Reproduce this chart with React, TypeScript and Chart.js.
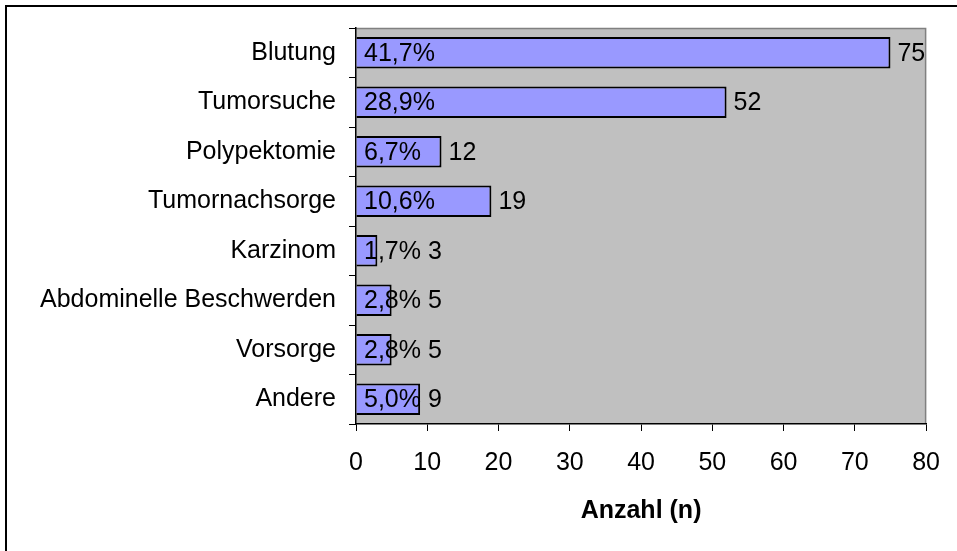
import React, { useEffect, useRef } from "react";
import { Chart, registerables } from "chart.js";

Chart.register(...registerables);

const categories = [
  "Blutung",
  "Tumorsuche",
  "Polypektomie",
  "Tumornachsorge",
  "Karzinom",
  "Abdominelle Beschwerden",
  "Vorsorge",
  "Andere",
];
const counts = [75, 52, 12, 19, 3, 5, 5, 9];
const percentLabels = ["41,7%", "28,9%", "6,7%", "10,6%", "1,7%", "2,8%", "2,8%", "5,0%"];
const xTickMin = 0;
const xTickMax = 80;
const xTickStep = 10;
const xTitle = "Anzahl (n)";

const FONT = "'Liberation Sans', Arial, Helvetica, sans-serif";
const FONT_SIZE = 25;

const plotBackground = {
  id: "plotBackground",
  beforeDraw(chart: any) {
    const { ctx, chartArea } = chart;
    const { left, top, right, bottom } = chartArea;
    ctx.save();
    ctx.fillStyle = "#C0C0C0";
    ctx.fillRect(left, top, right - left, bottom - top);
    ctx.strokeStyle = "#808080";
    ctx.lineWidth = 1.5;
    ctx.beginPath();
    ctx.moveTo(left, top + 0.5);
    ctx.lineTo(right - 0.5, top + 0.5);
    ctx.lineTo(right - 0.5, bottom);
    ctx.stroke();
    ctx.restore();
  },
};

const barLabels = {
  id: "barLabels",
  afterDatasetsDraw(chart: any) {
    const { ctx, chartArea } = chart;
    const meta = chart.getDatasetMeta(0);
    ctx.save();
    ctx.font = `${FONT_SIZE}px ${FONT}`;
    ctx.fillStyle = "#000";
    ctx.textBaseline = "middle";
    ctx.textAlign = "left";
    meta.data.forEach((bar: any, i: number) => {
      const px = chartArea.left + 8;
      ctx.fillText(percentLabels[i], px, bar.y + 1);
      const pctEnd = px + ctx.measureText(percentLabels[i]).width;
      const vx = Math.max(bar.x + 7, pctEnd + 7);
      ctx.fillText(String(counts[i]), vx, bar.y + 1);
    });
    ctx.restore();
  },
};

export default function App() {
  const canvasRef = useRef<HTMLCanvasElement | null>(null);

  useEffect(() => {
    if (!canvasRef.current) return;
    const chart = new Chart(canvasRef.current, {
      type: "bar",
      data: {
        labels: categories,
        datasets: [
          {
            data: counts,
            backgroundColor: "#9999FF",
            borderColor: "#000000",
            borderWidth: 2,
            barPercentage: 0.64,
            categoryPercentage: 1,
          },
        ],
      },
      options: {
        indexAxis: "y",
        responsive: false,
        animation: false,
        layout: { padding: { left: 0, top: 25, right: 27, bottom: 0 } },
        plugins: {
          legend: { display: false },
          tooltip: { enabled: false },
        },
        scales: {
          x: {
            min: xTickMin,
            max: xTickMax,
            ticks: {
              stepSize: xTickStep,
              color: "#000",
              font: { family: FONT, size: FONT_SIZE },
              padding: 17,
            },
            grid: {
              drawOnChartArea: false,
              drawTicks: true,
              tickLength: 7,
              color: "#000",
            },
            border: { display: true, color: "#000", width: 1.5 },
            title: {
              display: true,
              text: xTitle,
              color: "#000",
              font: { family: FONT, size: FONT_SIZE, weight: "bold" },
              padding: { top: 0, bottom: 25 },
            },
            afterFit(scale: any) {
              scale.height = 127;
            },
          },
          y: {
            ticks: {
              color: "#000",
              font: { family: FONT, size: FONT_SIZE },
              padding: 13,
            },
            grid: {
              drawOnChartArea: false,
              drawTicks: true,
              tickLength: 7,
              color: "#000",
              offset: true,
            },
            border: { display: true, color: "#000", width: 1.5 },
            afterFit(scale: any) {
              scale.width = 356;
            },
          },
        },
      } as any,
      plugins: [plotBackground, barLabels],
    });
    return () => chart.destroy();
  }, []);

  return (
    <div
      style={{
        position: "fixed",
        left: 0,
        top: 0,
        width: 957,
        height: 551,
        background: "#fff",
        overflow: "hidden",
      }}
    >
      <div
        style={{
          position: "absolute",
          left: 5,
          top: 5,
          width: 1000,
          height: 600,
          border: "2px solid #000",
          boxSizing: "border-box",
        }}
      />
      <canvas
        ref={canvasRef}
        width={957}
        height={551}
        style={{ position: "absolute", left: 0, top: 0, width: 957, height: 551 }}
      />
    </div>
  );
}
